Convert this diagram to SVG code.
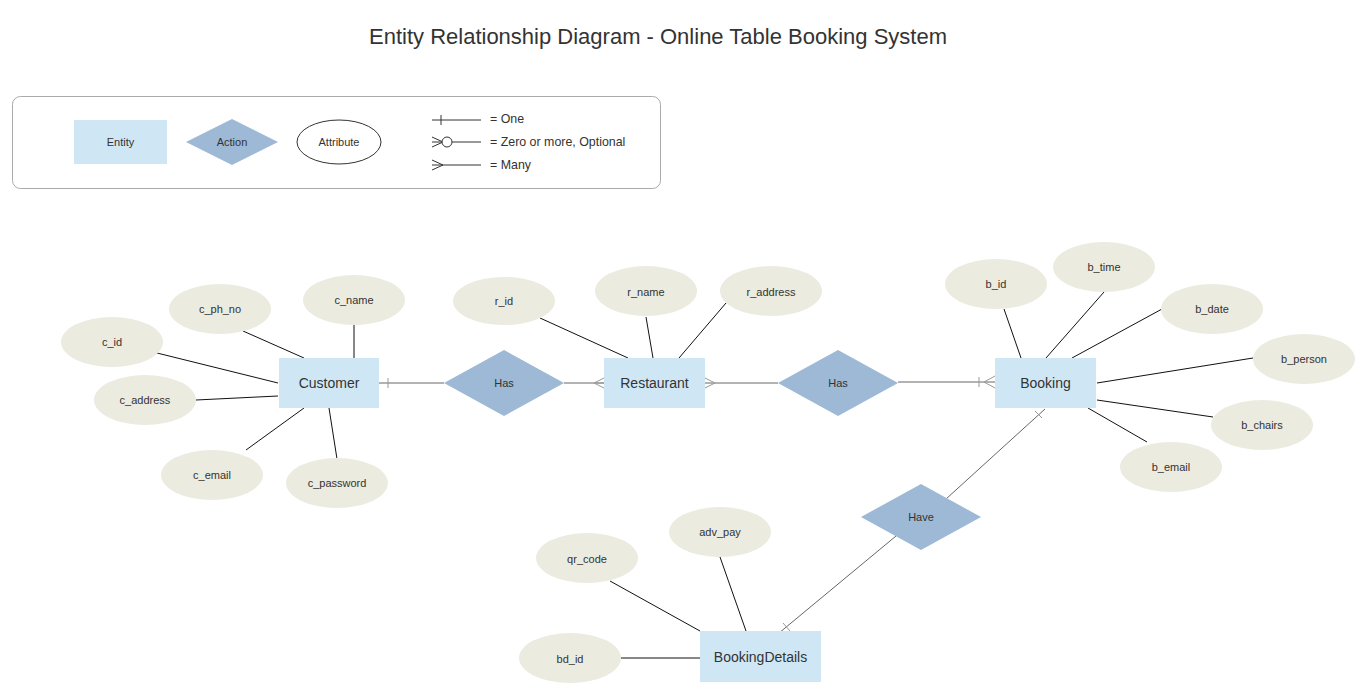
<svg xmlns="http://www.w3.org/2000/svg" width="1367" height="696" viewBox="0 0 1367 696">
<style>
  text { font-family: "Liberation Sans", Arial, sans-serif; fill: #333333; text-anchor: middle; dominant-baseline: central; }
  .title { font-size: 22px; }
  .ent rect { fill: #cfe7f5; }
  .ent text { font-size: 14px; }
  .act polygon { fill: #9db9d5; }
  .act text { font-size: 11px; }
  .att ellipse { fill: #ebebe0; }
  .att text { font-size: 11px; }
  .attl { stroke: #111111; stroke-width: 1; fill: none; }
  .rel { stroke: #666666; stroke-width: 1; fill: none; }
  .card { stroke: #999999; stroke-width: 1; fill: none; }
  .leg { stroke: #333333; stroke-width: 1; fill: none; }
  .legt { font-size: 12.4px; text-anchor: start; }
</style>

<text class="title" x="658" y="36">Entity Relationship Diagram - Online Table Booking System</text>

<g id="legend">
  <rect x="12.5" y="96.5" width="648" height="92" rx="8" fill="#ffffff" stroke="#aaaaaa"/>
  <g class="ent"><rect x="74" y="120" width="93" height="44"/><text x="120.5" y="142" style="font-size:11px">Entity</text></g>
  <g class="act"><polygon points="186,142 232,119 278,142 232,165"/><text x="232" y="142">Action</text></g>
  <g><ellipse cx="339" cy="142" rx="42" ry="22" fill="#ffffff" stroke="#333333"/><text x="339" y="142" style="font-size:11px">Attribute</text></g>
  <path class="leg" d="M432,120 H481 M441,115 V125"/>
  <text class="legt" x="490" y="119">= One</text>
  <path class="leg" d="M432,137 L443,142 L432,147 M432,142 H442 M452,142 H481"/>
  <circle cx="447" cy="142" r="5" fill="#ffffff" stroke="#333333"/>
  <text class="legt" x="490" y="142">= Zero or more, Optional</text>
  <path class="leg" d="M432,160 L443,165 L432,170 M432,165 H481"/>
  <text class="legt" x="490" y="165">= Many</text>
</g>

<g id="connectors">
  <!-- attribute lines -->
  <path class="attl" d="M157,353 L278,383 M243,331 L304,358 M354,325 L354,358 M196,400 L278,396 M246,450 L304,408 M329,408 L337,459"/>
  <path class="attl" d="M540,318 L628,358 M646,317 L653,358 M726,303 L679,358"/>
  <path class="attl" d="M1004,309 L1021,358 M1104,292 L1046,358 M1162,309 L1072,358 M1253,358 L1097,383 M1097,400 L1213,417 M1088,408 L1147,442"/>
  <path class="attl" d="M610,581 L700,631 M720,557 L746,631 M621,658 L700,658"/>
  <!-- relationship lines -->
  <path class="rel" d="M379,383 H444"/>
  <path class="card" d="M388,378 V388"/>
  <path class="rel" d="M564,383 H604"/>
  <path class="card" d="M604,378 L594,383 L604,388 M594,383 H604"/>
  <path class="rel" d="M705,383 H778"/>
  <path class="card" d="M705,378 L715,383 L705,388"/>
  <path class="rel" d="M898,382 H995"/>
  <path class="card" d="M979,377 V387 M995,376 L984,382 L995,388"/>
  <path class="rel" d="M1045,409 L946,499"/>
  <path class="card" d="M1035,411 L1042,418"/>
  <path class="rel" d="M896,536 L779,633"/>
  <path class="card" d="M783,623 L790,631"/>
</g>

<g id="customer" class="ent"><rect x="279" y="358" width="100" height="50"/><text x="329" y="383">Customer</text></g>
<g id="restaurant" class="ent"><rect x="604" y="358" width="101" height="50"/><text x="654.5" y="383">Restaurant</text></g>
<g id="booking" class="ent"><rect x="995" y="358" width="101" height="50"/><text x="1045.5" y="383">Booking</text></g>
<g id="bookingdetails" class="ent"><rect x="700" y="631" width="121" height="51"/><text x="760.5" y="657">BookingDetails</text></g>

<g id="has1" class="act"><polygon points="444,383 504,350 564,383 504,416"/><text x="504" y="383">Has</text></g>
<g id="has2" class="act"><polygon points="778,383 838,350 898,383 838,416"/><text x="838" y="383">Has</text></g>
<g id="have" class="act"><polygon points="861,517 921,484 981,517 921,550"/><text x="921" y="517">Have</text></g>

<g id="c_id" class="att"><ellipse cx="112" cy="342" rx="51" ry="25"/><text x="112" y="342">c_id</text></g>
<g id="c_ph_no" class="att"><ellipse cx="220" cy="309" rx="51" ry="25"/><text x="220" y="309">c_ph_no</text></g>
<g id="c_name" class="att"><ellipse cx="354" cy="300" rx="51" ry="25"/><text x="354" y="300">c_name</text></g>
<g id="c_address" class="att"><ellipse cx="145" cy="400" rx="51" ry="25"/><text x="145" y="400">c_address</text></g>
<g id="c_email" class="att"><ellipse cx="212" cy="475" rx="51" ry="25"/><text x="212" y="475">c_email</text></g>
<g id="c_password" class="att"><ellipse cx="337" cy="483" rx="51" ry="25"/><text x="337" y="483">c_password</text></g>

<g id="r_id" class="att"><ellipse cx="504" cy="301" rx="51" ry="24"/><text x="504" y="301">r_id</text></g>
<g id="r_name" class="att"><ellipse cx="646" cy="291" rx="51" ry="25"/><text x="646" y="292">r_name</text></g>
<g id="r_address" class="att"><ellipse cx="771" cy="291" rx="51" ry="25"/><text x="771" y="292">r_address</text></g>

<g id="b_id" class="att"><ellipse cx="996" cy="284" rx="51" ry="25"/><text x="996" y="284">b_id</text></g>
<g id="b_time" class="att"><ellipse cx="1104" cy="267" rx="51" ry="25"/><text x="1104" y="267">b_time</text></g>
<g id="b_date" class="att"><ellipse cx="1212" cy="309" rx="51" ry="25"/><text x="1212" y="309">b_date</text></g>
<g id="b_person" class="att"><ellipse cx="1304" cy="359" rx="51" ry="25"/><text x="1304" y="359">b_person</text></g>
<g id="b_chairs" class="att"><ellipse cx="1262" cy="425" rx="51" ry="25"/><text x="1262" y="425">b_chairs</text></g>
<g id="b_email" class="att"><ellipse cx="1171" cy="467" rx="51" ry="25"/><text x="1171" y="467">b_email</text></g>

<g id="qr_code" class="att"><ellipse cx="587" cy="558" rx="51" ry="25"/><text x="587" y="559">qr_code</text></g>
<g id="adv_pay" class="att"><ellipse cx="720" cy="532" rx="51" ry="25"/><text x="720" y="532">adv_pay</text></g>
<g id="bd_id" class="att"><ellipse cx="570" cy="658" rx="51" ry="25"/><text x="570" y="659">bd_id</text></g>
</svg>
